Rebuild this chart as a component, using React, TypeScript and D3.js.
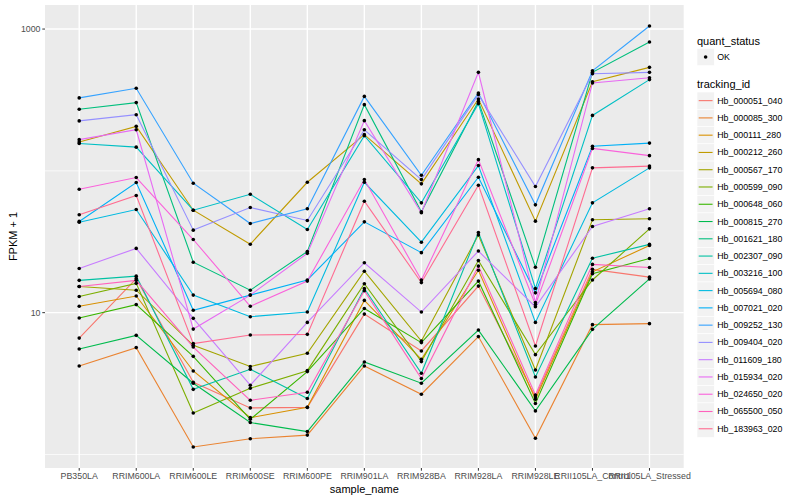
import * as d3 from "d3";

// categories on the x axis
const samples = [
  "PB350LA",
  "RRIM600LA",
  "RRIM600LE",
  "RRIM600SE",
  "RRIM600PE",
  "RRIM901LA",
  "RRIM928BA",
  "RRIM928LA",
  "RRIM928LE",
  "RRII105LA_Control",
  "RRII105LA_Stressed",
];

const trackingIds = [
  "Hb_000051_040",
  "Hb_000085_300",
  "Hb_000111_280",
  "Hb_000212_260",
  "Hb_000567_170",
  "Hb_000599_090",
  "Hb_000648_060",
  "Hb_000815_270",
  "Hb_001621_180",
  "Hb_002307_090",
  "Hb_003216_100",
  "Hb_005694_080",
  "Hb_007021_020",
  "Hb_009252_130",
  "Hb_009404_020",
  "Hb_011609_180",
  "Hb_015934_020",
  "Hb_024650_020",
  "Hb_065500_050",
  "Hb_183963_020",
];

// FPKM + 1, one value per sample
const hb_000051_040 = [6.62, 17.4, 3.23, 2.13, 2.15, 9.77, 5.37, 15.4, 2.54, 20.2, 17.8];
const hb_000085_300 = [4.21, 5.67, 1.13, 1.29, 1.37, 4.21, 2.66, 6.78, 1.3, 8.23, 8.37];
const hb_000111_280 = [11.1, 13.1, 3.88, 1.82, 2.15, 12.2, 4.69, 19.9, 2.45, 19.4, 29.8];
const hb_000212_260 = [160, 206, 52.8, 30.4, 83.1, 180, 81.0, 321, 44.2, 425, 537];
const hb_000567_170 = [15.3, 14.4, 5.89, 4.17, 5.17, 19.6, 6.31, 35.3, 3.94, 45.2, 45.9];
const hb_000599_090 = [13.0, 16.1, 1.96, 2.93, 3.9, 16.0, 4.52, 23.3, 5.06, 17.0, 39.0];
const hb_000648_060 = [9.16, 11.4, 4.92, 1.77, 3.84, 10.7, 6.15, 16.7, 2.29, 18.8, 24.1];
const hb_000815_270 = [5.54, 6.92, 3.18, 1.68, 1.45, 4.49, 3.18, 7.54, 2.03, 7.63, 17.3];
const hb_001621_180 = [272, 303, 22.7, 14.4, 27.0, 293, 51.4, 309, 20.9, 495, 810];
const hb_002307_090 = [16.9, 18.1, 2.88, 3.99, 2.48, 14.8, 3.74, 36.8, 3.52, 24.2, 30.3];
const hb_003216_100 = [156, 147, 52.8, 68.4, 38.6, 177, 59.5, 298, 14.8, 246, 440];
const hb_005694_080 = [43.4, 53.4, 13.3, 9.37, 10.1, 83.1, 31.4, 109, 8.54, 59.5, 105];
const hb_007021_020 = [44.0, 82.7, 10.4, 13.3, 17.0, 43.7, 26.5, 90.1, 13.8, 149, 157];
const hb_009252_130 = [327, 382, 81.8, 42.5, 54.0, 335, 93.1, 354, 57.6, 508, 1050];
const hb_009404_020 = [225, 249, 38.2, 55.1, 44.7, 195, 86.8, 345, 77.5, 484, 495];
const hb_011609_180 = [20.5, 28.4, 9.12, 3.08, 8.54, 22.5, 10.1, 27.2, 11.0, 40.5, 54.0];
const hb_015934_020 = [166, 195, 7.66, 13.3, 26.2, 226, 50.6, 495, 11.8, 417, 454];
const hb_024650_020 = [74.2, 89.7, 32.8, 11.1, 16.7, 86.8, 17.0, 120, 11.4, 144, 128];
const hb_065500_050 = [15.3, 16.9, 5.72, 2.41, 2.75, 14.3, 3.43, 21.3, 2.63, 21.9, 20.8];
const hb_183963_020 = [49.0, 67.0, 6.05, 6.96, 7.03, 61.1, 16.3, 79.2, 5.82, 105, 108];

const seriesValues = [
  hb_000051_040, hb_000085_300, hb_000111_280, hb_000212_260, hb_000567_170,
  hb_000599_090, hb_000648_060, hb_000815_270, hb_001621_180, hb_002307_090,
  hb_003216_100, hb_005694_080, hb_007021_020, hb_009252_130, hb_009404_020,
  hb_011609_180, hb_015934_020, hb_024650_020, hb_065500_050, hb_183963_020,
];

// ggplot default hue palette for 20 levels
const colors = [
  "#F8766D", "#EA8331", "#D89000", "#C09B00", "#A3A500",
  "#7CAE00", "#39B600", "#00BB4E", "#00BF7D", "#00C1A3",
  "#00BFC4", "#00BAE0", "#00B0F6", "#35A2FF", "#9590FF",
  "#C77CFF", "#E76BF3", "#FA62DB", "#FF62BC", "#FF6C91",
];

const yBreaks = [10, 1000];
const yMinorBreaks = [1, 100];

const PANEL = { left: 45, right: 683.7, top: 5, bottom: 468 };
const FONT = "'Liberation Sans', Arial, Helvetica, sans-serif";

const App = () => {
  // log10 scale with ggplot's 5% expansion
  const logs = seriesValues.flat().map((v) => Math.log10(v));
  const lo = d3.min(logs) as number;
  const hi = d3.max(logs) as number;
  const pad = (hi - lo) * 0.05;
  const y = d3
    .scaleLog()
    .domain([Math.pow(10, lo - pad), Math.pow(10, hi + pad)])
    .range([PANEL.bottom, PANEL.top]);
  const x = d3
    .scalePoint<string>()
    .domain(samples)
    .range([PANEL.left, PANEL.right])
    .padding(0.6);

  const line = d3
    .line<number>()
    .x((_, i) => x(samples[i]) as number)
    .y((d) => y(d));

  const midX = (PANEL.left + PANEL.right) / 2;
  const midY = (PANEL.top + PANEL.bottom) / 2;
  const legendX = 697;
  const keySize = 17.27;
  const keyTop = 92;

  return (
    <svg
      width={800}
      height={500}
      style={{ position: "absolute", left: 0, top: 0, background: "white" }}
      fontFamily={FONT}
    >
      {/* panel */}
      <rect
        x={PANEL.left}
        y={PANEL.top}
        width={PANEL.right - PANEL.left}
        height={PANEL.bottom - PANEL.top}
        fill="#EBEBEB"
      />
      {yMinorBreaks.map((b) => (
        <line
          key={"ym" + b}
          x1={PANEL.left}
          x2={PANEL.right}
          y1={y(b)}
          y2={y(b)}
          stroke="white"
          strokeWidth={0.7}
        />
      ))}
      {yBreaks.map((b) => (
        <line
          key={"y" + b}
          x1={PANEL.left}
          x2={PANEL.right}
          y1={y(b)}
          y2={y(b)}
          stroke="white"
          strokeWidth={1.4}
        />
      ))}
      {samples.map((s) => (
        <line
          key={"x" + s}
          x1={x(s)}
          x2={x(s)}
          y1={PANEL.top}
          y2={PANEL.bottom}
          stroke="white"
          strokeWidth={1.4}
        />
      ))}

      {/* lines */}
      {seriesValues.map((vals, i) => (
        <path
          key={"l" + i}
          d={line(vals) as string}
          fill="none"
          stroke={colors[i]}
          strokeWidth={1.1}
        />
      ))}
      {/* points */}
      {seriesValues.map((vals, i) =>
        vals.map((v, j) => (
          <circle
            key={"p" + i + "-" + j}
            cx={x(samples[j])}
            cy={y(v)}
            r={1.8}
            fill="black"
          />
        ))
      )}

      {/* y axis */}
      {yBreaks.map((b) => (
        <g key={"yt" + b}>
          <line
            x1={PANEL.left - 2.7}
            x2={PANEL.left}
            y1={y(b)}
            y2={y(b)}
            stroke="#333333"
            strokeWidth={1}
          />
          <text
            x={PANEL.left - 4.5}
            y={y(b)}
            textAnchor="end"
            dominantBaseline="central"
            fontSize={8.8}
            fill="#4D4D4D"
          >
            {b}
          </text>
        </g>
      ))}
      <text
        transform={`translate(13, ${midY}) rotate(-90)`}
        textAnchor="middle"
        dominantBaseline="central"
        fontSize={11}
        fill="black"
      >
        FPKM + 1
      </text>

      {/* x axis */}
      {samples.map((s) => (
        <g key={"xt" + s}>
          <line
            x1={x(s)}
            x2={x(s)}
            y1={PANEL.bottom}
            y2={PANEL.bottom + 2.7}
            stroke="#333333"
            strokeWidth={1}
          />
          <text
            x={x(s)}
            y={PANEL.bottom + 8}
            textAnchor="middle"
            dominantBaseline="central"
            fontSize={8.8}
            fill="#4D4D4D"
          >
            {s}
          </text>
        </g>
      ))}
      <text
        x={midX}
        y={489}
        textAnchor="middle"
        dominantBaseline="central"
        fontSize={11}
        fill="black"
      >
        sample_name
      </text>

      {/* legend: quant_status */}
      <text x={legendX} y={40.5} dominantBaseline="central" fontSize={11}>
        quant_status
      </text>
      <rect
        x={legendX}
        y={48.4}
        width={keySize}
        height={keySize}
        fill="#F2F2F2"
        stroke="white"
        strokeWidth={0.6}
      />
      <circle cx={legendX + keySize / 2} cy={57} r={1.8} fill="black" />
      <text
        x={legendX + keySize + 3}
        y={57}
        dominantBaseline="central"
        fontSize={8.8}
      >
        OK
      </text>

      {/* legend: tracking_id */}
      <text x={legendX} y={84.3} dominantBaseline="central" fontSize={11}>
        tracking_id
      </text>
      {trackingIds.map((id, i) => {
        const cy = keyTop + keySize * i + keySize / 2;
        return (
          <g key={"lg" + id}>
            <rect
              x={legendX}
              y={keyTop + keySize * i}
              width={keySize}
              height={keySize}
              fill="#F2F2F2"
              stroke="white"
              strokeWidth={0.6}
            />
            <line
              x1={legendX + 1.7}
              x2={legendX + keySize - 1.7}
              y1={cy}
              y2={cy}
              stroke={colors[i]}
              strokeWidth={1.1}
            />
            <text
              x={legendX + keySize + 3}
              y={cy}
              dominantBaseline="central"
              fontSize={8.8}
            >
              {id}
            </text>
          </g>
        );
      })}
    </svg>
  );
};

export default App;
